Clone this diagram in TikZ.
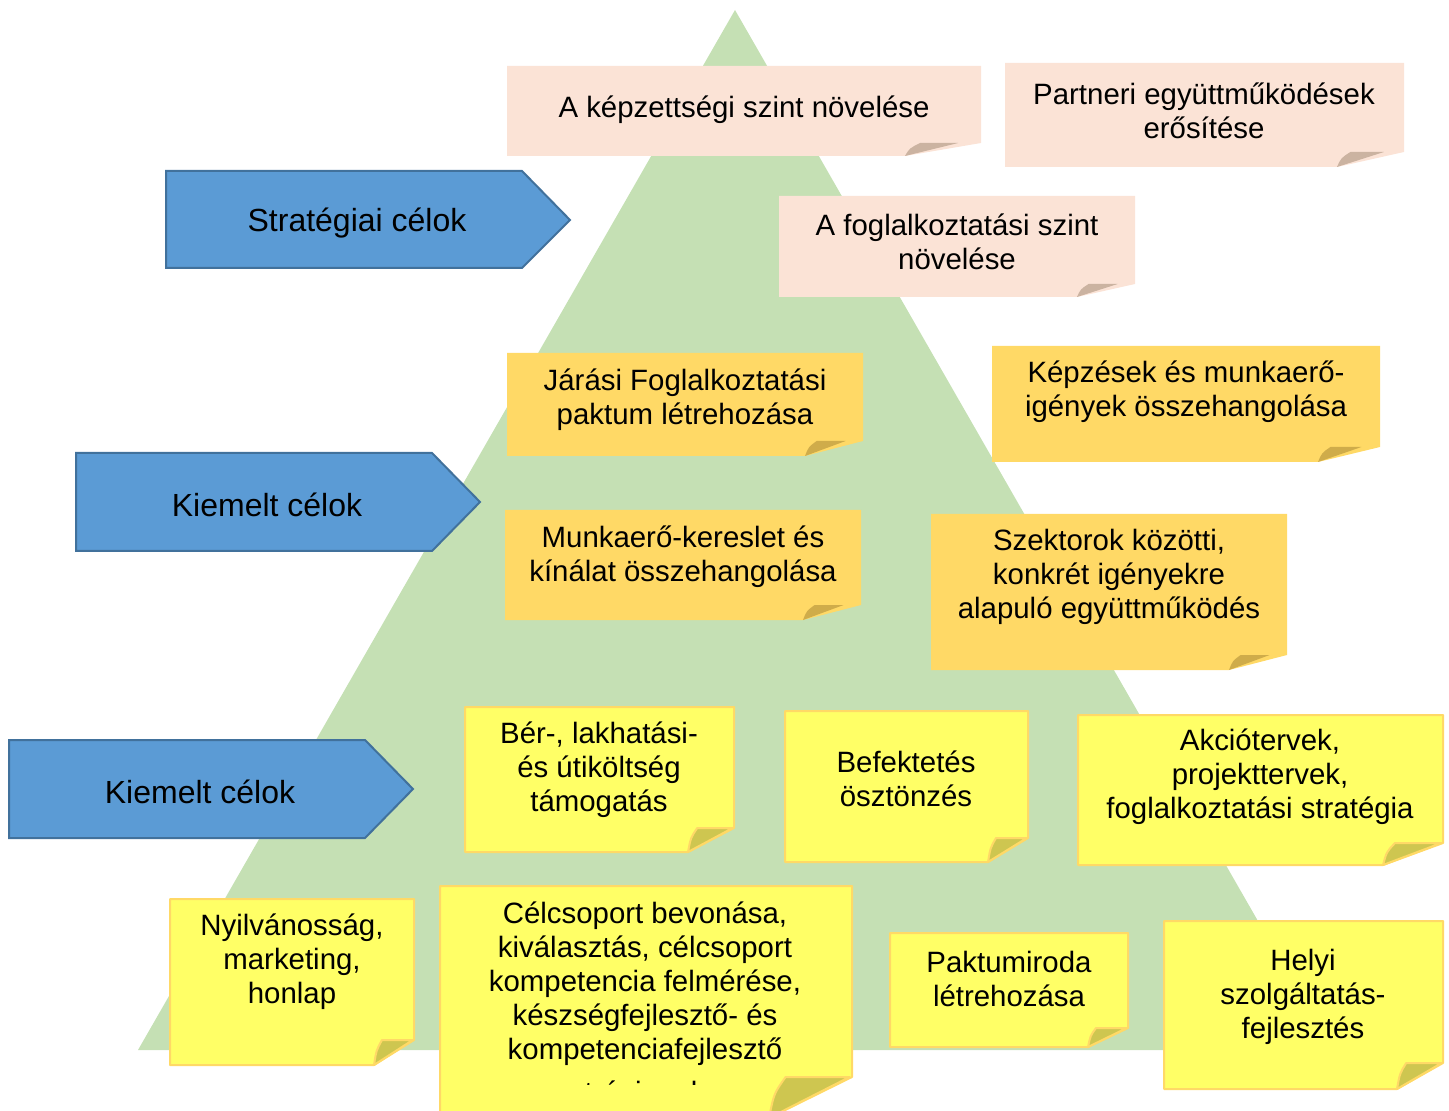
\documentclass[tikz,border=0pt]{standalone}
\usepackage{fontspec}
\setmainfont{Liberation Sans}
\definecolor{trigreen}{HTML}{C5E0B4}
\definecolor{arrowblue}{HTML}{5B9BD5}
\definecolor{arrowedge}{HTML}{41719C}
\definecolor{pinkfill}{HTML}{FBE3D6}
\definecolor{pinkfold}{HTML}{CBB3A1}
\definecolor{orangefill}{HTML}{FFD966}
\definecolor{orangefold}{HTML}{CFAC4A}
\definecolor{yellowfill}{HTML}{FFFF66}
\definecolor{yellowedge}{HTML}{FFD966}
\definecolor{yellowfold}{HTML}{CEC650}
\tikzset{
  txt/.style={font=\fontsize{14.7}{17}\selectfont, align=center, inner sep=0pt, text=black},
  onetxt/.style={txt, yshift=-1.5pt},
  bigtxt/.style={txt, font=\fontsize{16}{19}\selectfont, yshift=-1.5pt},
  bluearrow/.style={fill=arrowblue, draw=arrowedge, line width=1pt, line join=miter},
  pinknote/.style={fill=pinkfill, draw=none},
  pinkfoldst/.style={fill=pinkfold, draw=none},
  orangenote/.style={fill=orangefill, draw=none},
  orangefoldst/.style={fill=orangefold, draw=none},
  yellownote/.style={fill=yellowfill, draw=yellowedge, line width=1pt, line join=round},
  yellowfoldst/.style={fill=yellowfold, draw=yellowedge, line width=1pt, line join=round},
}
% #1 note style, #2 fold style, #3 fold fraction, #4 x0, #5 y0, #6 x1, #7 y1, #8 cut x, #9 right y
\newcommand\stnote[9]{%
  \pgfmathsetmacro\fw{#6-#8}%
  \pgfmathsetmacro\fh{#7-#9}%
  \pgfmathsetmacro\ax{#8+0.06*\fw}%
  \pgfmathsetmacro\ay{#7-0.6*\fh}%
  \pgfmathsetmacro\bx{#8+0.2*\fw}%
  \pgfmathsetmacro\rx{#8+#3*\fw}%
  \path[#1] (#4,#5) -- (#6,#5) -- (#6,#9) -- (#8,#7) -- (#4,#7) -- cycle;
  \path[#2] (#8,#7) .. controls (\ax,\ay) .. (\bx,#9) -- (\rx,#9) -- cycle;
}
\begin{document}
\begin{tikzpicture}[x=0.5pt,y=-0.5pt]
\useasboundingbox (0,0) rectangle (1449,1111);
\clip (0,0) rectangle (1449,1111);
% pyramid
\fill[trigreen] (735,10) -- (1332,1050) -- (138,1050) -- cycle;

% blue arrows
\path[bluearrow] (166,171) -- (522,171) -- (570,220) -- (522,268) -- (166,268) -- cycle;
\node[bigtxt] (b1) at (357,220) {Stratégiai célok};
\path[bluearrow] (76,453) -- (432,453) -- (480,502) -- (432,551) -- (76,551) -- cycle;
\node[bigtxt] (b2) at (267,502) {Kiemelt célok};
\path[bluearrow] (9,740) -- (365,740) -- (413,789) -- (365,838) -- (9,838) -- cycle;
\node[bigtxt] (b3) at (200,789) {Kiemelt célok};

% pink notes
\stnote{pinknote}{pinkfoldst}{0.7}{507}{66}{981}{156}{905}{143}
\node[onetxt] (p1) at (744,107) {A képzettségi szint növelése};
\stnote{pinknote}{pinkfoldst}{0.7}{1005}{63}{1404}{167}{1337}{152}
\node[txt] (p2) at (1204,111) {Partneri együttműködések\\erősítése};
\stnote{pinknote}{pinkfoldst}{0.7}{779}{196}{1135}{297}{1077}{284}
\node[txt] (p3) at (957,242) {A foglalkoztatási szint\\növelése};

% orange notes
\stnote{orangenote}{orangefoldst}{0.7}{507}{353}{863}{456}{805}{441}
\node[txt] (o1) at (685,400) {Járási Foglalkoztatási\\paktum létrehozása};
\stnote{orangenote}{orangefoldst}{0.7}{992}{346}{1380}{462}{1318}{447}
\node[txt] (o2) at (1186,392) {Képzések és munkaerő-\\igények összehangolása};
\stnote{orangenote}{orangefoldst}{0.7}{505}{510}{861}{620}{803}{605}
\node[txt] (o3) at (683,557) {Munkaerő-kereslet és\\kínálat összehangolása};
\stnote{orangenote}{orangefoldst}{0.7}{931}{514}{1287}{670}{1229}{655}
\node[txt] (o4) at (1109,577) {Szektorok közötti,\\konkrét igényekre\\alapuló együttműködés};

% yellow notes
\stnote{yellownote}{yellowfoldst}{0.97}{465}{707}{734}{852}{688}{828}
\node[txt] (y1) at (599,770) {Bér-, lakhatási-\\és útiköltség\\támogatás};
\stnote{yellownote}{yellowfoldst}{0.97}{785}{711}{1028}{862}{988}{838}
\node[txt] (y2) at (906,779) {Befektetés\\ösztönzés};
\stnote{yellownote}{yellowfoldst}{0.97}{1078}{715}{1443}{865}{1383}{843}
\node[txt] (y3) at (1260,777) {Akciótervek,\\projekttervek,\\foglalkoztatási stratégia};
\stnote{yellownote}{yellowfoldst}{0.97}{170}{899}{414}{1065}{374}{1040}
\node[txt] (y4) at (292,962) {Nyilvánosság,\\marketing,\\honlap};
\stnote{yellownote}{yellowfoldst}{0.97}{440}{886}{852}{1118}{769}{1077}
\node[txt] (y5) at (645,983.5) {Célcsoport bevonása,\\kiválasztás, célcsoport\\kompetencia felmérése,\\készségfejlesztő- és\\kompetenciafejlesztő};
\begin{scope}
\clip (440,1060) rectangle (852,1084);
\node[txt, anchor=base] (y5b) at (645,1102) {tréningek};
\end{scope}
\stnote{yellownote}{yellowfoldst}{0.97}{890}{933}{1128}{1047}{1088}{1028}
\node[txt] (y6) at (1009,979) {Paktumiroda\\létrehozása};
\stnote{yellownote}{yellowfoldst}{0.97}{1164}{921}{1443}{1089}{1397}{1063}
\node[txt] (y7) at (1303,997) {Helyi\\szolgáltatás-\\fejlesztés};
\end{tikzpicture}
\end{document}
